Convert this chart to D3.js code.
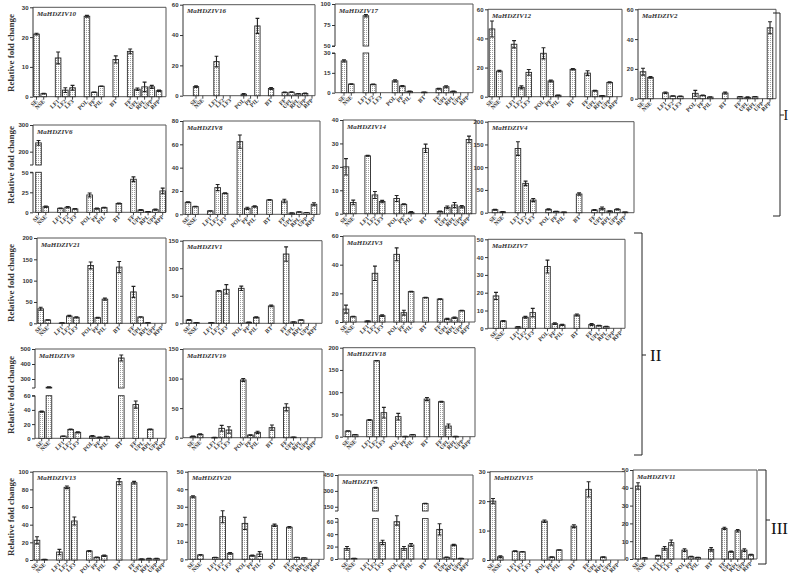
<!DOCTYPE html>
<html><head><meta charset="utf-8">
<script src="https://cdn.jsdelivr.net/npm/d3@7"></script>
<style>html,body{margin:0;padding:0;background:#fff;} svg{display:block}</style>
</head><body><svg id="c" width="791" height="584"></svg>
<script>
// ---------- data ----------
const categories = ["SE","NSE","LF1","LF2","LF3","POL","PF","PIL","BT","FF","UPL","RPL","UPP","RPP"];
const groupSizes = [2,3,3,1,5];
const genes = ["MaHDZIV10","MaHDZIV16","MaHDZIV17","MaHDZIV12","MaHDZIV2",
               "MaHDZIV6","MaHDZIV8","MaHDZIV14","MaHDZIV4",
               "MaHDZIV21","MaHDZIV1","MaHDZIV3","MaHDZIV7",
               "MaHDZIV9","MaHDZIV19","MaHDZIV18",
               "MaHDZIV13","MaHDZIV20","MaHDZIV5","MaHDZIV15","MaHDZIV11"];

const vMaHDZIV10 = [21,1,13,2.2,3,27,1.5,3.5,12.5,15.2,2.5,3.3,3.3,2];
const eMaHDZIV10 = [0.3,0.1,2,0.8,0.8,0.3,0.1,0.1,1.2,0.8,0.4,1.6,0.5,0.2];
const vMaHDZIV16 = [6,0,22.5,0,0,1,0,46,4.8,2.2,2.3,1.3,1.5,0];
const eMaHDZIV16 = [0.5,0,3.5,0,0,0.5,0,5,0.6,0.2,0.2,0.2,0.2,0];
const vMaHDZIV17 = [24,6.5,86,6.3,0,9,5,1,0.4,3,4.5,1,0,0];
const eMaHDZIV17 = [0.8,0.3,1.5,0.3,0,0.8,0.4,0.3,0.1,0.4,0.8,0.2,0,0];
const vMaHDZIV12 = [46.5,17.6,36,6.4,16.7,29.8,10.8,1,18.8,16.2,4.1,0.7,9.8,0];
const eMaHDZIV12 = [5.5,0.5,2.5,1,2,3.8,0.6,0.2,0.5,1.6,0.3,0.1,0.4,0];
const vMaHDZIV2  = [18.1,14.3,4,1.8,1.6,3.6,2.2,1.1,3.8,1.3,0.9,1.3,0,47.6];
const eMaHDZIV2  = [2.3,0.5,0.5,0.2,0.2,2,0.2,0.1,0.6,0.1,0.3,0.1,0,4];
const vMaHDZIV6  = [233,7,5,6.3,4.2,21.7,4.6,5.8,11,41.3,2.9,0.8,3.3,26.7];
const eMaHDZIV6  = [9,0.8,0.4,1,0.4,2.5,0.8,0.3,0.5,3,0.6,0.1,0.8,3.5];
const vMaHDZIV8  = [10.3,6.6,2.9,22.9,18,62.3,5.1,6.6,12.3,11.4,1.1,2,1.4,8.6];
const eMaHDZIV8  = [0.4,0.2,0.2,2.6,0.4,5.7,1,0.6,0.3,1.5,0.1,0.2,0.1,1.3];
const vMaHDZIV14 = [20,4.8,24.7,8,5.2,6.5,4,0.6,27.9,0.9,2.7,3.7,3,31.7];
const eMaHDZIV14 = [3.5,1,0.2,1.5,0.5,1.3,0.2,0.3,1.8,0.2,0.6,1.1,0.5,1.4];
const vMaHDZIV4  = [6.6,2,141,64.5,27.8,7.3,2.9,1.5,41,5.9,9.5,3.7,7.3,1.5];
const eMaHDZIV4  = [1,0.3,15,5,3.5,1,0.3,0.2,2.5,1.2,3,0.7,1.5,0.2];
const vMaHDZIV21 = [34,7.8,1,17,14,135.6,13,56.6,131.8,73.6,14.7,1.5,0,0];
const eMaHDZIV21 = [3.5,0.5,0.2,1.5,1.5,8,0.8,2.5,13,13,0.5,0.3,0,0];
const vMaHDZIV1  = [6,1.2,1.2,58.7,61.7,63.5,1.8,10.9,31.5,125.8,2.4,6,0,0];
const eMaHDZIV1  = [0.6,0.2,0.2,0.6,8.5,4,0.3,1,1.5,13,0.3,0.5,0,0];
const vMaHDZIV3  = [9,3.7,0.7,34,4.4,47.2,6.5,21.2,17,16,2.1,3,7.9,0];
const eMaHDZIV3  = [2.8,0.2,0.2,5,0.6,4.5,1.7,0.2,0.2,0.2,0.4,0.5,0.2,0];
const vMaHDZIV7  = [18.2,4.1,0.8,6.2,8.8,34.7,2.6,1.9,7.5,2.1,1.5,0.9,0,0];
const eMaHDZIV7  = [2,0.2,0.2,0.5,2.4,3.6,0.5,0.3,0.5,0.5,0.2,0.2,0,0];
const vMaHDZIV9  = [37.5,245,3,12.5,8.4,3,1.4,2.3,440,47.5,0,12.7,0,0];
const eMaHDZIV9  = [0.8,3,0.3,0.4,0.8,1,0.2,0.5,20,5,0,0.5,0,0];
const vMaHDZIV19 = [2.3,5.6,0.5,15.8,13,97.7,4.5,9,17,51.4,1,0,0,0];
const eMaHDZIV19 = [0.4,0.8,0.1,5,5.5,2.5,0.6,2,4.5,6,0.2,0,0,0];
const vMaHDZIV18 = [12.7,4.5,37.5,170.8,54,45,0.7,4.5,84.6,78.6,24,0.7,0,0];
const eMaHDZIV18 = [0.5,0.3,0.8,0.5,12,7.5,0.1,0.5,3.5,1,4.5,0.1,0,0];
const vMaHDZIV13 = [22.3,0.7,9,82.3,44.2,10.2,3,4.9,88.7,87.5,1.1,1.5,1.5,0];
const eMaHDZIV13 = [4,0.1,3,1.5,4.5,0.6,0.3,0.8,3.5,1.5,0.2,0.3,0.3,0];
const vMaHDZIV20 = [35.7,2.5,1,24.3,3.4,20.5,2.1,3,19.4,18.3,1.1,0.8,0,0];
const eMaHDZIV20 = [0.6,0.2,0.1,3.4,0.5,3.5,0.3,1.4,0.7,0.4,0.1,0.1,0,0];
const vMaHDZIV5  = [17,1,0,330,26.7,60,17,22.5,180,47.6,2.7,22.5,1,0];
const eMaHDZIV5  = [3,0.2,0,5,3.5,5.5,3,2.5,2,9,0.4,1,0.2,0];
const vMaHDZIV15 = [20,1.1,3,2.8,0,13.2,1,3.4,11.5,24,0,1,0,0];
const eMaHDZIV15 = [0.9,0.3,0.1,0.1,0,0.4,0.1,0.1,0.5,2.6,0,0.1,0,0];
const vMaHDZIV11 = [41,0.7,1.9,6,9.2,5,1.3,0.9,5.4,17.2,4.1,15.9,5,2.4];
const eMaHDZIV11 = [1.8,0.1,0.2,1,1.5,0.8,0.2,0.1,1,0.6,0.3,0.7,0.8,0.2];

const values = [vMaHDZIV10,vMaHDZIV16,vMaHDZIV17,vMaHDZIV12,vMaHDZIV2,vMaHDZIV6,vMaHDZIV8,vMaHDZIV14,vMaHDZIV4,
  vMaHDZIV21,vMaHDZIV1,vMaHDZIV3,vMaHDZIV7,vMaHDZIV9,vMaHDZIV19,vMaHDZIV18,vMaHDZIV13,vMaHDZIV20,vMaHDZIV5,vMaHDZIV15,vMaHDZIV11];
const errors = [eMaHDZIV10,eMaHDZIV16,eMaHDZIV17,eMaHDZIV12,eMaHDZIV2,eMaHDZIV6,eMaHDZIV8,eMaHDZIV14,eMaHDZIV4,
  eMaHDZIV21,eMaHDZIV1,eMaHDZIV3,eMaHDZIV7,eMaHDZIV9,eMaHDZIV19,eMaHDZIV18,eMaHDZIV13,eMaHDZIV20,eMaHDZIV5,eMaHDZIV15,eMaHDZIV11];

// y domains: [max] for a plain axis, [lowerMax, upperMin, upperMax] for a broken axis
const yDomains = [[30],[60],[30,50,100],[60],[60],[50,150,300],[80],[40],[200],
  [200],[150],[60],[50],[60,240,500],[150],[200],[100],[50],[65,110,450],[30],[50]];
// tick labels: lower ticks, and upper ticks for broken axes
const yTicks = [[0,10,20,30],[0,20,40,60],[0,15,30],[0,20,40,60],[0,20,40,60],[0,25,50],[0,20,40,60,80],[0,10,20,30,40],[0,50,100,150,200],
  [0,50,100,150,200],[0,50,100,150],[0,20,40,60],[0,10,20,30,40,50],[0,20,40,60],[0,50,100,150],[0,50,100,150,200],[0,20,40,60,80,100],[0,10,20,30,40,50],[0,20,40,60],[0,10,20,30],[0,10,20,30,40,50]];
const yTicksUpper = [null,null,[50,75,100],null,null,[200,300],null,null,null,
  null,null,null,null,[300,400,500],null,null,null,null,[150,300,450],null,null];
const yLabel = "Relative fold change";
const groupLabels = ["I","II","III"];

// ---------- layout (pixels) ----------
// [frameLeft, frameRight, firstCatX, lastCatX, yTop, yZero, lowerTopY, upperBottomY]
const boxes = [
  [33,166,36.5,159,7.3,96.7],[183,315,196,312,4.7,95.7],[335,473,344,468,4,92.7,53,46],[488,622,492,617,9.3,96.7],[638,776,643,770,9.3,98.7],
  [33,166,38.5,162.7,125,212.3,172.3,165],[183,320,188,314,121,214.3],[343,476,346,469,120,213.7],[488,634,495,625,121.7,212.7],
  [37,166,40.7,162,238,323.3],[183,322,189,316,240.7,323.3],[343,475,346,469,236,322],[488,625,496,621,239.3,328.3],
  [35,166,41.7,164.7,349,438.3,395.7,388],[183,322,193,315,349,437.7],[343,475,348,470,347.7,436.7],
  [33,167,37,164,471.7,560],[188,324,193,319,471.7,559.3],[338,473,347,468,475,559,518.6,511],[490,625,493,618,471.7,560],[633,757,638,751,470,559]
];
const rowLabelY = [53,165,283,395,517];

// ---------- drawing ----------
const svg = d3.select("#c");
const defs = svg.append("defs");
const pat = defs.append("pattern").attr("id","dots").attr("width",2).attr("height",2).attr("patternUnits","userSpaceOnUse");
pat.append("rect").attr("width",2).attr("height",2).attr("fill","#fff");
pat.append("rect").attr("width",1).attr("height",1).attr("fill","#a0a0a0");

// x domain with group spacers
const xDomain = [];
let ci = 0;
groupSizes.forEach((n,gi) => {
  if (gi > 0) xDomain.push("_gap" + gi);
  for (let k = 0; k < n; k++) xDomain.push(categories[ci++]);
});

const AX = "#333";

genes.forEach((gene, i) => {
  const b = boxes[i];
  const [fl, fr, x0, x1, yTop, yZero] = b;
  const dom = yDomains[i];
  const broken = dom.length === 3;
  const g = svg.append("g");
  const x = d3.scalePoint().domain(xDomain).range([x0, x1]);
  const step = x.step();
  const bw = Math.min(5.6, step * 0.78);

  let yl, yu = null;
  if (broken) {
    yl = d3.scaleLinear().domain([0, dom[0]]).range([yZero, b[6]]);
    yu = d3.scaleLinear().domain([dom[1], dom[2]]).range([b[7], yTop]);
  } else {
    yl = d3.scaleLinear().domain([0, dom[0]]).range([yZero, yTop]);
  }
  const yOf = v => (broken && v > dom[0]) ? yu(v) : yl(v);

  // frame: top, right, bottom
  g.append("path").attr("d", `M${fl},${yTop}H${fr}V${yZero}H${fl}`)
    .attr("fill","none").attr("stroke","#555").attr("stroke-width",1);

  // y axis
  const yAxisL = d3.axisLeft(yl).tickValues(yTicks[i]).tickSize(3).tickPadding(1.5).tickFormat(d3.format("d"));
  const ga = g.append("g").attr("transform",`translate(${fl},0)`).call(yAxisL);
  if (broken) {
    const gu = g.append("g").attr("transform",`translate(${fl},0)`)
      .call(d3.axisLeft(yu).tickValues(yTicksUpper[i]).tickSize(3).tickPadding(1.5).tickFormat(d3.format("d")));
    gu.selectAll(".domain").attr("d", `M-3,${b[7]}H0V${yTop}`);
    ga.selectAll(".domain").attr("d", `M-3,${b[6]}H0V${yZero}`);
  } else {
    ga.selectAll(".domain").attr("d", `M0,${yTop}V${yZero}`);
  }
  g.selectAll(".tick text").attr("font-family","'Liberation Sans', Arial, sans-serif")
    .attr("font-size",6).attr("font-weight","bold").attr("fill","#333");
  g.selectAll(".tick line, .domain").attr("stroke",AX).attr("stroke-width",1);

  // x axis ticks + labels
  const xg = g.append("g");
  categories.forEach(c => {
    const cx = x(c);
    xg.append("line").attr("x1",cx).attr("x2",cx).attr("y1",yZero).attr("y2",yZero+3)
      .attr("stroke",AX).attr("stroke-width",0.9);
    xg.append("text").attr("transform",`translate(${cx+1.5},${yZero+5}) rotate(-45)`)
      .attr("text-anchor","end").attr("font-family","'Liberation Serif', 'Times New Roman', serif")
      .attr("font-size",5.8).attr("font-weight","bold").attr("fill","#333").text(c);
  });

  // bars
  const vals = values[i], errs = errors[i];
  categories.forEach((c, k) => {
    const v = vals[k];
    if (!(v > 0)) return;
    const cx = x(c);
    const segs = [];
    if (broken && v > dom[0]) {
      segs.push([b[6], yZero]);
      segs.push([yu(v), b[7]]);
    } else {
      segs.push([yl(v), yZero]);
    }
    segs.forEach(([t, bt]) => {
      g.append("rect").attr("x", cx - bw/2).attr("y", t).attr("width", bw).attr("height", Math.max(0.6, bt - t))
        .attr("fill","url(#dots)").attr("stroke","#2a2a2a").attr("stroke-width",0.9);
    });
    const e = errs[k];
    if (e > 0) {
      const yt = yOf(v + e), yb = yOf(Math.max(0, v - e));
      const cw = bw * 0.7;
      const ep = `M${cx},${yt}V${yb}M${cx-cw/2},${yt}H${cx+cw/2}M${cx-cw/2},${yb}H${cx+cw/2}`;
      g.append("path").attr("d", ep).attr("stroke","#222").attr("stroke-width",1.1).attr("fill","none");
    }
  });

  // title
  g.append("text").attr("x", fl + 4).attr("y", yTop + 8.5)
    .attr("font-family","'Liberation Serif', 'Times New Roman', serif").attr("font-style","italic")
    .attr("font-weight","bold").attr("font-size",7).attr("fill","#333").text(gene);
});

// y axis titles
rowLabelY.forEach(cy => {
  svg.append("text").attr("transform",`translate(14,${cy}) rotate(-90)`)
    .attr("text-anchor","middle").attr("font-family","'Liberation Serif', 'Times New Roman', serif")
    .attr("font-weight","bold").attr("font-size",9).attr("fill","#333").text(yLabel);
});

// brackets
function bracket(xv, y1, y2, endLen, ym, label, tx, ty, fs) {
  svg.append("path").attr("d", `M${xv-endLen},${y1}H${xv}V${y2}H${xv-endLen}M${xv},${ym}H${xv+4}`)
    .attr("fill","none").attr("stroke","#222").attr("stroke-width",1);
  svg.append("text").attr("x", tx).attr("y", ty).attr("font-family","'Liberation Serif', 'Times New Roman', serif")
    .attr("font-size", fs).attr("fill","#111").text(label);
}
bracket(780, 13, 216, 7, 115, groupLabels[0], 783.5, 120, 14);
bracket(642, 233, 455, 8, 355, groupLabels[1], 650, 361, 17);
bracket(766, 470, 564, 8, 520, groupLabels[2], 771, 534, 17);
</script>
</body></html>
